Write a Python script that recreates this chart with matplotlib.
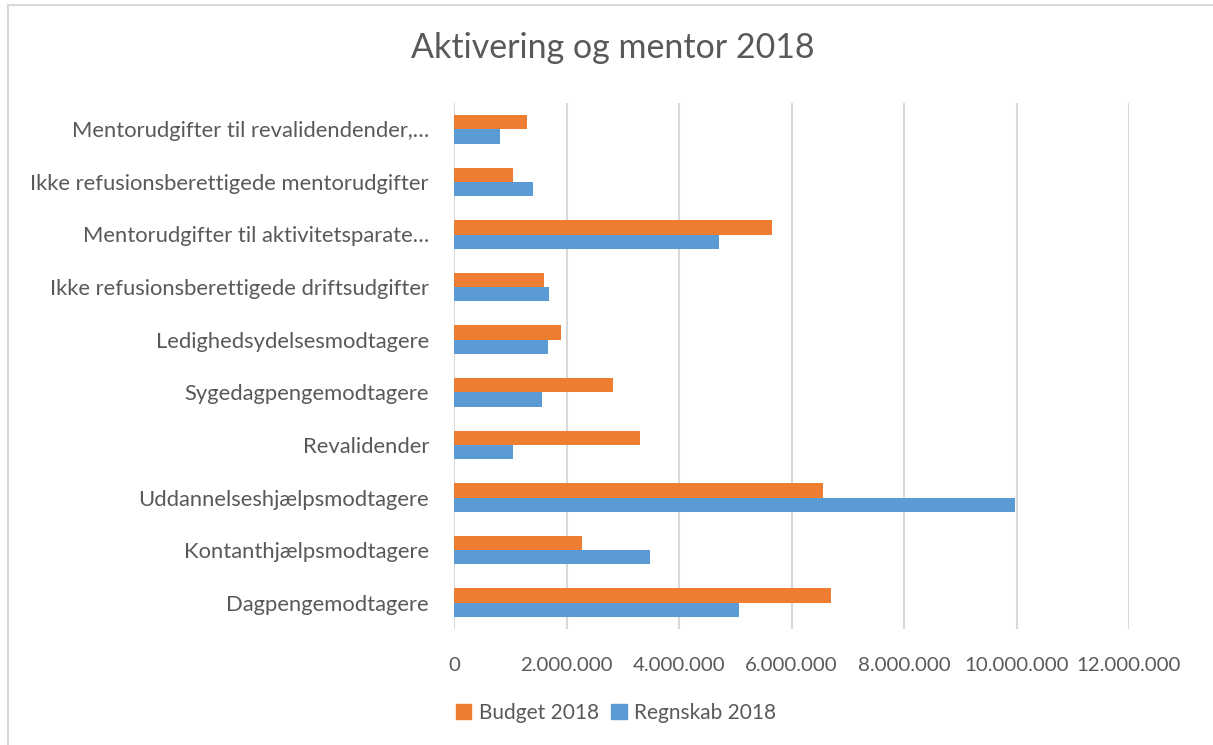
import matplotlib
matplotlib.use("Agg")
import matplotlib.pyplot as plt
import numpy as np
from matplotlib.ticker import FuncFormatter
from matplotlib.patches import Rectangle, Patch

plt.rcParams['font.family'] = ['Lato', 'DejaVu Sans']

categories = [
    "Dagpengemodtagere",
    "Kontanthjælpsmodtagere",
    "Uddannelseshjælpsmodtagere",
    "Revalidender",
    "Sygedagpengemodtagere",
    "Ledighedsydelsesmodtagere",
    "Ikke refusionsberettigede driftsudgifter",
    "Mentorudgifter til aktivitetsparate…",
    "Ikke refusionsberettigede mentorudgifter",
    "Mentorudgifter til revalidendender,…",
]
budget_2018 = [6700000, 2270000, 6560000, 3310000, 2820000, 1900000, 1600000, 5650000, 1040000, 1290000]
regnskab_2018 = [5060000, 3480000, 9970000, 1040000, 1570000, 1670000, 1690000, 4710000, 1410000, 820000]
x_ticks = [0, 2000000, 4000000, 6000000, 8000000, 10000000, 12000000]

W, H = 1213, 745
fig = plt.figure(figsize=(W / 100, H / 100), dpi=100)
fig.patch.set_facecolor("white")

# outer chart frame
fig.patches.append(Rectangle((8 / W, -0.05), 1.2, 1 - 5 / H + 0.05, transform=fig.transFigure,
                             fill=False, edgecolor="#D9D9D9", linewidth=1.5))

ax = fig.add_axes([454 / W, 1 - 629 / H, (1129 - 454) / W, (629 - 103) / H])

orange = "#ED7D31"
blue = "#5B9BD5"
text_col = "#595959"

y = np.arange(len(categories))
h = 0.27
ax.barh(y + h / 2, budget_2018, height=h, color=orange, label="Budget 2018", zorder=3)
ax.barh(y - h / 2, regnskab_2018, height=h, color=blue, label="Regnskab 2018", zorder=3)

ax.set_xlim(0, 12000000)
ax.set_ylim(-0.5, len(categories) - 0.5)
ax.set_xticks(x_ticks)
ax.xaxis.set_major_formatter(FuncFormatter(lambda v, p: f"{int(v):,}".replace(",", ".")))
ax.set_yticks(y)
ax.set_yticklabels(categories)
ax.grid(axis="x", color="#D9D9D9", linewidth=1.5, zorder=0)
for s in ax.spines.values():
    s.set_visible(False)
ax.tick_params(axis="both", length=0, colors=text_col)
ax.tick_params(axis="x", pad=20, labelsize=14.7)
ax.tick_params(axis="y", pad=18, labelsize=15.8)

fig.text(613 / W, 1 - 48 / H, "Aktivering og mentor 2018", ha="center", va="center",
         fontsize=24.5, color=text_col)

handles = [Patch(color=orange), Patch(color=blue)]
fig.legend(handles, ["Budget 2018", "Regnskab 2018"], loc="center",
           bbox_to_anchor=(616 / W, 1 - 713 / H), ncol=2, frameon=False,
           fontsize=15, labelcolor=text_col, handlelength=0.75, handleheight=0.75,
           handletextpad=0.35, columnspacing=0.6)

fig.savefig("out.png", dpi=100)
